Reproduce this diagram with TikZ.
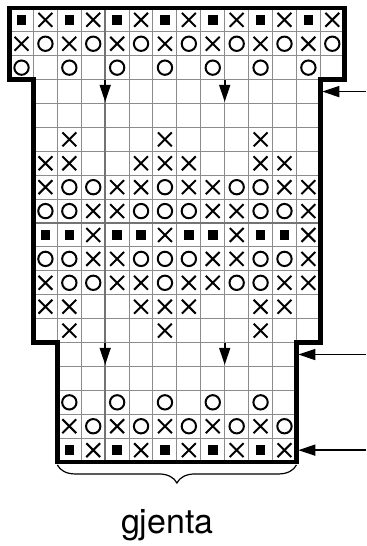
\documentclass[tikz,border=0pt]{standalone}
\usepackage{fontspec}
\setsansfont{TeX Gyre Heros}
\usepackage{tikz}
\usetikzlibrary{
  arrows.meta,
  decorations.pathreplacing
}

% chart symbols: column, row (0-based, row 0 on top)
\newcommand{\kcross}[2]{%
  \draw[stitch] (#1+0.21,-#2-0.21) -- (#1+0.79,-#2-0.79)
                (#1+0.21,-#2-0.79) -- (#1+0.79,-#2-0.21);}
\newcommand{\kring}[2]{%
  \draw[stitch] (#1+0.5,-#2-0.5) circle (0.3);}
\newcommand{\kbox}[2]{%
  \fill (#1+0.3,-#2-0.3) rectangle (#1+0.7,-#2-0.7);}

\begin{document}
\begin{tikzpicture}[x=0.42cm, y=0.42cm,
  gridline/.style={black!45, line width=0.5pt},
  repeatline/.style={black!55, line width=1.2pt},
  stitch/.style={line width=1pt},
  edge/.style={line width=2.3pt, line join=miter},
  pointer/.style={line width=0.8pt, -{Triangle[length=8.5pt,width=5.5pt]}}]

\useasboundingbox (-0.4,0.33) rectangle (14.92,-22.51);

% Grid
\draw[gridline, step=1] (0,0)   grid (14,-3);
\draw[gridline, step=1] (1,-3)  grid (13,-14);
\draw[gridline, step=1] (2,-14) grid (12,-19);

% Repeat lines
\draw[repeatline] (4,0) -- (4,-19);
\draw[repeatline] (1,-9) -- (13,-9);

% Rows 0-2
\foreach \c in {0,2,...,12} {\kbox{\c}{0} \kcross{\c+1}{0}}
\foreach \c in {0,2,...,12} {\kcross{\c}{1} \kring{\c+1}{1}}
\foreach \c in {0,2,...,12} {\kring{\c}{2}}

% Motif, rows 5-13
\foreach \r in {5,13} {
  \foreach \c in {2,6,10} {\kcross{\c}{\r}}}
\foreach \r in {6,12} {
  \foreach \c in {1,2,5,6,7,10,11} {\kcross{\c}{\r}}}
\foreach \r in {7,11} {
  \foreach \c in {1,4,5,7,8,11,12} {\kcross{\c}{\r}}
  \foreach \c in {2,3,6,9,10} {\kring{\c}{\r}}}
\foreach \r in {8,10} {
  \foreach \c in {1,2,5,6,7,10,11} {\kring{\c}{\r}}
  \foreach \c in {3,4,8,9,12} {\kcross{\c}{\r}}}
\foreach \c in {1,2,4,5,7,8,10,11} {\kbox{\c}{9}}
\foreach \c in {3,6,9,12} {\kcross{\c}{9}}

% Rows 16-18
\foreach \c in {2,4,...,10} {\kring{\c}{16}}
\foreach \c in {2,4,...,10} {\kcross{\c}{17} \kring{\c+1}{17}}
\foreach \c in {2,4,...,10} {\kbox{\c}{18} \kcross{\c+1}{18}}

% Outline
\draw[edge] (0,0) -- (14,0) -- (14,-3) -- (13,-3) -- (13,-14) -- (12,-14)
  -- (12,-19) -- (2,-19) -- (2,-14) -- (1,-14) -- (1,-3) -- (0,-3) -- cycle;

% Decrease marks
\coordinate (d1) at (4,-3);   \coordinate (d1tip) at (4,-3.93);
\coordinate (d2) at (9,-3);   \coordinate (d2tip) at (9,-3.93);
\coordinate (d3) at (4,-14);  \coordinate (d3tip) at (4,-14.93);
\coordinate (d4) at (9,-14);  \coordinate (d4tip) at (9,-14.93);
\foreach \n in {1,...,4}
  \draw[pointer] (d\n) -- (d\n tip);

% Side pointers
\coordinate (p1) at (14.92,-3.5);  \coordinate (p1tip) at (13.08,-3.5);
\coordinate (p2) at (14.92,-14.5); \coordinate (p2tip) at (12.08,-14.5);
\coordinate (p3) at (14.92,-18.5); \coordinate (p3tip) at (12.08,-18.5);
\foreach \n in {1,2,3}
  \draw[pointer] (p\n) -- (p\n tip);

% Brace
\draw[decorate, decoration={brace, mirror, amplitude=9pt}, line width=0.6pt]
  (2,-19.12) -- (12,-19.12);
\node[anchor=base, font=\sffamily\fontsize{17}{20}\selectfont] (label) at (6.6,-21.97) {gjenta};

\end{tikzpicture}
\end{document}
